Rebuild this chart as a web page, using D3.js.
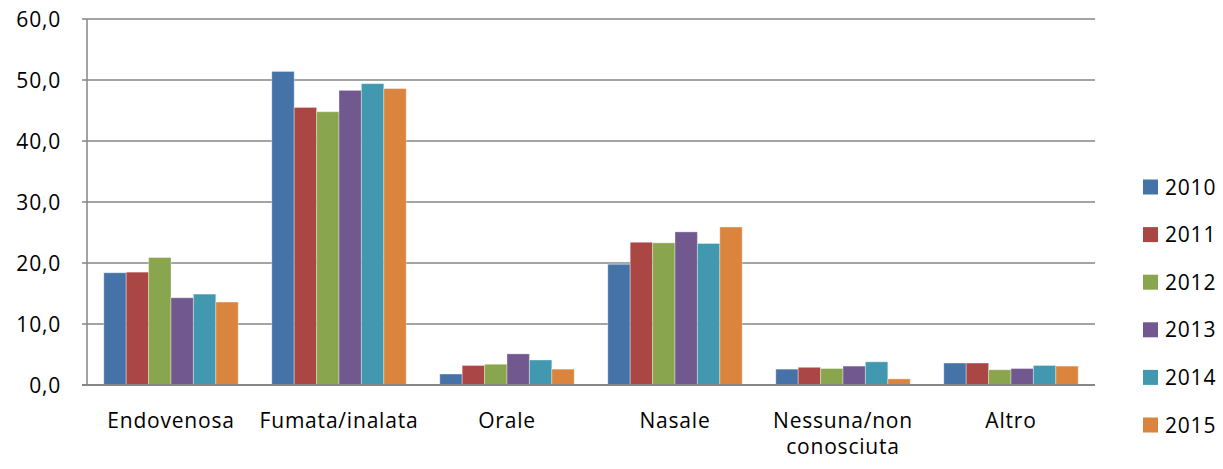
<!DOCTYPE html>
<html>
<head>
<meta charset="utf-8">
<script src="https://cdn.jsdelivr.net/npm/d3@7"></script>
<style>
  body { margin: 0; background: #fff; }
  text { font-family: "Open Sans", sans-serif; fill: #000; letter-spacing: 0.8px; }
</style>
</head>
<body>
<div id="chart"></div>
<script>
// categories and series
var categories = ["Endovenosa", "Fumata/inalata", "Orale", "Nasale", "Nessuna/non conosciuta", "Altro"];
var years = ["2010", "2011", "2012", "2013", "2014", "2015"];
var colors = ["#4572A7", "#AA4643", "#89A54E", "#71588F", "#4198AF", "#DB843D"];

var v2010 = [18.4, 51.4, 1.8, 19.8, 2.6, 3.6];
var v2011 = [18.5, 45.5, 3.2, 23.4, 2.9, 3.6];
var v2012 = [20.9, 44.8, 3.4, 23.3, 2.7, 2.5];
var v2013 = [14.3, 48.3, 5.1, 25.1, 3.1, 2.7];
var v2014 = [14.9, 49.4, 4.1, 23.2, 3.8, 3.2];
var v2015 = [13.6, 48.6, 2.6, 25.9, 1.0, 3.1];
var series = [v2010, v2011, v2012, v2013, v2014, v2015];

var yTicks = [0, 10, 20, 30, 40, 50, 60];

var width = 1223, height = 469;
var margin = {top: 19, right: 128, bottom: 84, left: 87};
var plotW = width - margin.left - margin.right,
    plotH = height - margin.top - margin.bottom;

var svg = d3.select("#chart").append("svg")
    .attr("width", width)
    .attr("height", height);

var g = svg.append("g")
    .attr("transform", "translate(" + margin.left + "," + margin.top + ")");

var x0 = d3.scaleBand().domain(categories).range([0, plotW]);
// gap width 150%: each group = 6 bars + 1.5 bar of gap
var x1 = d3.scaleBand().domain(years)
    .range([x0.bandwidth() * 0.75 / 7.5, x0.bandwidth() * 6.75 / 7.5]);

var y = d3.scaleLinear().domain([0, 60]).range([plotH, 0]);

// gridlines
g.append("g").selectAll("line")
  .data(yTicks.slice(1))
  .enter().append("line")
    .attr("x1", -5).attr("x2", plotW)
    .attr("y1", function(d) { return y(d); })
    .attr("y2", function(d) { return y(d); })
    .attr("stroke", "#868686").attr("stroke-width", 1.5);

// y labels
g.append("g").selectAll("text")
  .data(yTicks)
  .enter().append("text")
    .attr("x", -26)
    .attr("y", function(d) { return y(d); })
    .attr("dy", "0.36em")
    .attr("text-anchor", "end")
    .style("font-size", "21px")
    .text(function(d) { return d3.format(".1f")(d).replace(".", ","); });

// bars
var groups = g.append("g").selectAll("g")
  .data(categories)
  .enter().append("g")
    .attr("transform", function(d) { return "translate(" + x0(d) + ",0)"; });

groups.selectAll("rect")
  .data(function(d, i) { return years.map(function(yr, j) { return {year: yr, value: series[j][i], c: colors[j]}; }); })
  .enter().append("rect")
    .attr("x", function(d) { return x1(d.year); })
    .attr("width", x1.bandwidth())
    .attr("y", function(d) { return y(d.value); })
    .attr("height", function(d) { return plotH - y(d.value); })
    .attr("fill", function(d) { return d.c; })
    .attr("stroke", "rgba(255,255,255,0.35)")
    .attr("stroke-width", 1);

// axes lines
g.append("line")
  .attr("x1", 0).attr("x2", 0).attr("y1", 0).attr("y2", plotH)
  .attr("stroke", "#868686").attr("stroke-width", 1.5);
g.append("line")
  .attr("x1", -5).attr("x2", plotW).attr("y1", plotH).attr("y2", plotH)
  .attr("stroke", "#868686").attr("stroke-width", 2);

// category labels
var catLabels = g.append("g").selectAll("text")
  .data(categories)
  .enter().append("text")
    .attr("x", function(d) { return x0(d) + x0.bandwidth() / 2; })
    .attr("y", plotH + 43)
    .attr("text-anchor", "middle")
    .style("font-size", "21px");

catLabels.each(function(d) {
  var t = d3.select(this);
  var parts = d === "Nessuna/non conosciuta" ? ["Nessuna/non", "conosciuta"] : [d];
  parts.forEach(function(p, i) {
    t.append("tspan")
      .attr("x", x0(d) + x0.bandwidth() / 2)
      .attr("dy", i === 0 ? 0 : 26)
      .text(p);
  });
});

// legend
var legend = svg.append("g").selectAll("g")
  .data(years)
  .enter().append("g")
    .attr("transform", function(d, i) { return "translate(1143," + (187 + i * 47.6) + ")"; });

legend.append("rect")
  .attr("x", 0).attr("y", -7.5)
  .attr("width", 15).attr("height", 15)
  .attr("fill", function(d, i) { return colors[i]; });

legend.append("text")
  .attr("x", 22).attr("y", 0)
  .attr("dy", "0.36em")
  .style("font-size", "21px")
  .text(function(d) { return d; });
</script>
</body>
</html>
